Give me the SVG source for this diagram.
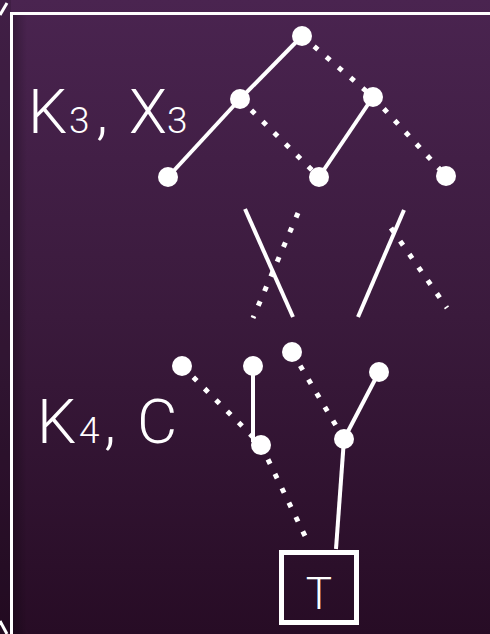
<svg xmlns="http://www.w3.org/2000/svg" width="490" height="634" viewBox="0 0 490 634">
<defs>
<linearGradient id="bg" x1="0" y1="0" x2="0" y2="1">
<stop offset="0" stop-color="#4a2450"/>
<stop offset="0.5" stop-color="#3a1a3c"/>
<stop offset="1" stop-color="#270c25"/>
</linearGradient>
<linearGradient id="sh" x1="0" y1="0" x2="1" y2="0">
<stop offset="0" stop-color="#000" stop-opacity="0.25"/>
<stop offset="1" stop-color="#000" stop-opacity="0"/>
</linearGradient>
<style>
.s{stroke:#fff;stroke-width:4;fill:none}
.d{stroke:#fff;stroke-width:5;fill:none;stroke-dasharray:5 11}
.n{fill:#fff}
.t{fill:#fff;font-family:Roboto,"Liberation Sans",sans-serif;font-weight:300}
.f{stroke:#fff;stroke-width:3;fill:none}
</style>
</defs>
<rect width="490" height="634" fill="url(#bg)"/>
<rect x="0" y="0" width="11" height="634" fill="#000" opacity="0.12"/>
<rect x="13" y="15" width="14" height="619" fill="url(#sh)"/>
<g id="frame">
<path class="f" d="M11.5 634V13.5H490"/>
<line class="f" x1="0" y1="15" x2="7" y2="3"/>
<line class="f" x1="0" y1="621" x2="7" y2="634"/>
</g>
<g id="connectors">
<line class="s" x1="302" y1="36" x2="240" y2="99"/>
<line class="s" x1="240" y1="99" x2="168" y2="177"/>
<line class="d" x1="302" y1="36" x2="373" y2="97"/>
<line class="d" x1="240" y1="99" x2="319" y2="177"/>
<line class="s" x1="373" y1="97" x2="319" y2="177"/>
<line class="d" x1="373" y1="97" x2="446" y2="176"/>
<line class="s" x1="245" y1="209" x2="293" y2="317"/>
<line class="d" x1="298" y1="213" x2="253" y2="318"/>
<line class="s" x1="404" y1="210" x2="358" y2="317"/>
<line class="d" x1="391" y1="228" x2="447" y2="308"/>
<line class="d" x1="182" y1="366" x2="261" y2="445"/>
<line class="s" x1="253" y1="366" x2="253" y2="442"/>
<line class="d" x1="292" y1="352" x2="344" y2="439"/>
<line class="s" x1="379" y1="372" x2="344" y2="439"/>
<line class="d" x1="261" y1="445" x2="305" y2="536"/>
<line class="s" x1="344" y1="439" x2="336" y2="549"/>
</g>
<g id="nA"><circle class="n" cx="302" cy="36" r="10"/></g>
<g id="nB"><circle class="n" cx="240" cy="99" r="10"/></g>
<g id="nC"><circle class="n" cx="168" cy="177" r="10"/></g>
<g id="nD"><circle class="n" cx="319" cy="177" r="10"/></g>
<g id="nE"><circle class="n" cx="373" cy="97" r="10"/></g>
<g id="nF"><circle class="n" cx="446" cy="176" r="10"/></g>
<g id="nG"><circle class="n" cx="182" cy="366" r="10"/></g>
<g id="nH"><circle class="n" cx="253" cy="366" r="10"/></g>
<g id="nI"><circle class="n" cx="292" cy="352" r="10"/></g>
<g id="nJ"><circle class="n" cx="379" cy="372" r="10"/></g>
<g id="nK"><circle class="n" cx="261" cy="445" r="10"/></g>
<g id="nL"><circle class="n" cx="344" cy="439" r="10"/></g>
<g id="nT">
<rect x="281.5" y="552.5" width="75" height="70" fill="none" stroke="#fff" stroke-width="5"/>
<text class="t" x="319" y="609" font-size="44" text-anchor="middle">T</text>
</g>
<g id="label1">
<text class="t" font-size="62" y="133"><tspan x="28">K</tspan><tspan x="69" font-size="37">3</tspan><tspan x="96">, </tspan><tspan x="129">X</tspan><tspan x="167" font-size="37">3</tspan></text>
</g>
<g id="label2">
<text class="t" font-size="62" y="443"><tspan x="37">K</tspan><tspan x="79" font-size="37">4</tspan><tspan x="104">, </tspan><tspan x="137">C</tspan></text>
</g>
</svg>
